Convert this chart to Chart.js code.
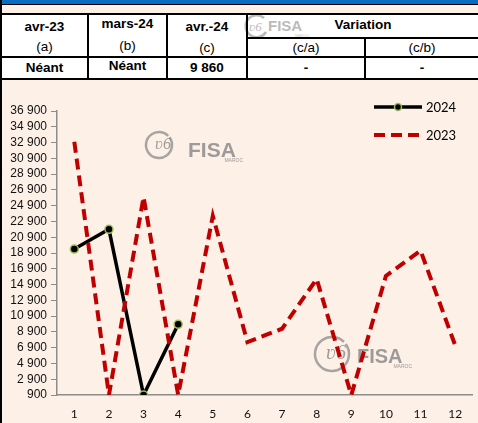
<!DOCTYPE html>
<html>
<head>
<meta charset="utf-8">
<script src="https://cdn.jsdelivr.net/npm/chart.js@4.4.1/dist/chart.umd.min.js"></script>
<style>
  html, body { margin: 0; padding: 0; }
  body { width: 478px; height: 423px; position: relative; overflow: hidden; background: #fdf0e6; font-family: "Liberation Sans", Arial, sans-serif; }
  .abs { position: absolute; }
  .blk { position: absolute; background: #000; }
  .cell { position: absolute; text-align: center; font-size: 13.5px; color: #000; line-height: 16px; }
  .b { font-weight: bold; }
  #wrap { position: absolute; left: 3px; top: 80px; width: 475px; height: 343px; }
</style>
</head>
<body>
<div class="abs" style="left:0;top:0;width:478px;height:4px;background:#0a6cc0"></div>
<div class="blk" style="left:0;top:4px;width:478px;height:1px"></div>
<div class="abs" style="left:0;top:15px;width:478px;height:63px;background:#fff"></div>
<svg class="abs" style="left:240px;top:10px" width="80" height="30">
  <path d="M 24 8 A 11 11 0 1 0 26 22" fill="none" stroke="#bbb" stroke-width="2.5"/>
  <text x="9" y="21" font-family="Liberation Serif" font-style="italic" font-size="13" fill="#bbb">ʋ6</text>
  <text x="28" y="21" font-family="Liberation Sans" font-weight="bold" font-size="15" fill="#bbb">FISA</text>
  <text x="55" y="27" font-family="Liberation Sans" font-size="4" fill="#ccc">MAROC</text>
</svg>
<div class="blk" style="left:0;top:0;width:2px;height:423px"></div>
<div class="blk" style="left:0;top:13px;width:478px;height:2px"></div>
<div class="blk" style="left:246px;top:37px;width:232px;height:1.5px"></div>
<div class="blk" style="left:0;top:56px;width:478px;height:2px"></div>
<div class="blk" style="left:0;top:78px;width:478px;height:2px"></div>
<div class="blk" style="left:87px;top:13px;width:2px;height:67px"></div>
<div class="blk" style="left:166px;top:13px;width:2px;height:67px"></div>
<div class="blk" style="left:246px;top:13px;width:2px;height:67px"></div>
<div class="blk" style="left:364px;top:37px;width:2px;height:43px"></div>

<div class="cell b" style="left:2px;top:19px;width:85px">avr-23</div>
<div class="cell b" style="left:89px;top:16px;width:77px">mars-24</div>
<div class="cell b" style="left:168px;top:19px;width:78px">avr.-24</div>
<div class="cell b" style="left:248px;top:17px;width:230px">Variation</div>
<div class="cell" style="left:2px;top:39px;width:85px">(a)</div>
<div class="cell" style="left:89px;top:38px;width:77px">(b)</div>
<div class="cell" style="left:168px;top:40px;width:78px">(c)</div>
<div class="cell" style="left:248px;top:40px;width:116px">(c/a)</div>
<div class="cell" style="left:366px;top:40px;width:112px">(c/b)</div>
<div class="cell b" style="left:2px;top:60px;width:85px">Néant</div>
<div class="cell b" style="left:89px;top:58px;width:77px">Néant</div>
<div class="cell b" style="left:168px;top:60px;width:78px">9 860</div>
<div class="cell b" style="left:248px;top:60px;width:116px">-</div>
<div class="cell b" style="left:366px;top:60px;width:112px">-</div>

<div id="wrap"><canvas id="chartCanvas"></canvas></div>

<script>
const MOIS = ["1", "2", "3", "4", "5", "6", "7", "8", "9", "10", "11", "12"];
const VALEURS_2024 = [19400, 21900, 900, 9860];
const VALEURS_2023 = [33000, 900, 26000, 900, 23600, 7600, 9300, 15600, 900, 16000, 19200, 7200];
const Y_MIN = 900, Y_MAX = 36900, Y_PAS = 2000;

function fmt(v) { return String(v).replace(/\B(?=(\d{3})+(?!\d))/g, " "); }

// logos FISA en filigrane
const filigrane = {
  id: "filigrane",
  beforeDatasetsDraw(chart) {
    const c = chart.ctx;
    [[156, 65, 13, 185, 77, 21], [329, 274, 17, 354, 283, 20]].forEach(function(w) {
      c.save();
      c.strokeStyle = "rgba(145,145,145,0.8)";
      c.fillStyle = "rgba(140,140,140,0.85)";
      c.lineWidth = 2.5;
      c.beginPath();
      c.arc(w[0], w[1], w[2], -0.2 * Math.PI, 1.75 * Math.PI);
      c.stroke();
      c.font = "italic " + Math.round(w[2] * 1.2) + "px 'Liberation Serif'";
      c.textAlign = "center";
      c.textBaseline = "middle";
      c.fillText("ʋ6", w[0] + 4, w[1]);
      c.textAlign = "left";
      c.textBaseline = "alphabetic";
      c.font = "bold " + w[5] + "px 'Liberation Sans'";
      c.fillText("FISA", w[3], w[4]);
      c.font = "5px 'Liberation Sans'";
      c.textAlign = "right";
      c.fillText("MAROC", w[3] + 55, w[4] + 5);
      c.restore();
    });
  }
};

// légende dessinée en haut à droite
const legende = {
  id: "legende",
  afterDraw(chart) {
    const c = chart.ctx;
    chart.data.datasets.forEach(function(ds, i) {
      const y = 27 + i * 28;
      c.save();
      c.strokeStyle = ds.borderColor;
      c.lineWidth = ds.borderWidth;
      c.setLineDash(ds.borderDash || []);
      c.beginPath();
      c.moveTo(371, y);
      c.lineTo(419, y);
      c.stroke();
      if (ds.pointRadius) {
        c.setLineDash([]);
        c.fillStyle = ds.pointBackgroundColor;
        c.strokeStyle = ds.pointBorderColor;
        c.lineWidth = ds.pointBorderWidth;
        c.beginPath();
        c.arc(395, y, 3.5, 0, 2 * Math.PI);
        c.fill();
        c.stroke();
      }
      c.fillStyle = "#000";
      c.font = "13px Lato";
      c.textBaseline = "middle";
      c.fillText(ds.label, 423, y + 1);
      c.restore();
    });
  }
};

new Chart(document.getElementById("chartCanvas"), {
  type: "line",
  data: {
    labels: MOIS,
    datasets: [
      { label: "2024", data: VALEURS_2024, borderColor: "#000", borderWidth: 3.5, tension: 0,
        pointRadius: 4, pointBackgroundColor: "#000", pointBorderColor: "#9bbb59", pointBorderWidth: 1.5, order: 1 },
      { label: "2023", data: VALEURS_2023, borderColor: "#c00000", borderWidth: 4, borderDash: [11, 6], tension: 0,
        pointRadius: 0, order: 0 }
    ]
  },
  options: {
    responsive: true,
    maintainAspectRatio: false,
    animation: false,
    layout: { padding: { top: 31, right: 3, left: 0, bottom: 0 } },
    plugins: { legend: { display: false }, tooltip: { enabled: false } },
    scales: {
      x: {
        offset: true,
        grid: { display: false, drawTicks: false },
        border: { display: true, color: "#8c8c8c", width: 1.5 },
        ticks: { color: "#111", font: { family: "Lato", size: 12 }, padding: 12, maxRotation: 0 },
        afterFit: function(s) { s.height = 28; }
      },
      y: {
        min: Y_MIN, max: Y_MAX,
        grid: { drawOnChartArea: false, drawTicks: true, tickLength: 6, color: "#8c8c8c" },
        border: { display: true, color: "#8c8c8c", width: 1.5 },
        ticks: { stepSize: Y_PAS, autoSkip: false, color: "#111", font: { family: "Liberation Sans", size: 12 }, padding: 4,
          callback: function(v) { return fmt(v); } },
        afterFit: function(s) { s.width = 54; }
      }
    }
  },
  plugins: [filigrane, legende]
});
</script>
</body>
</html>
